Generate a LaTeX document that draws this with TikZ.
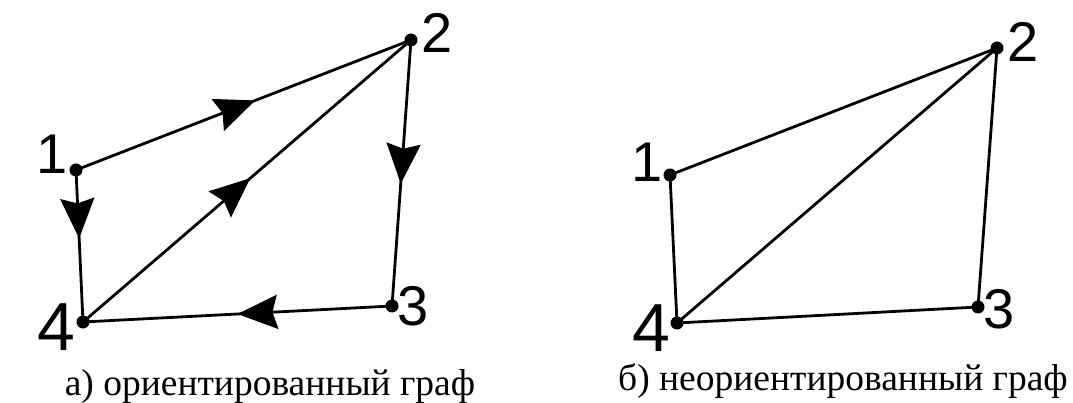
\documentclass[tikz,border=0pt]{standalone}
\usepackage{fontspec}
\setmainfont{Liberation Serif}
\newfontfamily\digitfont{Liberation Sans}
\usetikzlibrary{arrows.meta,decorations.markings}
\tikzset{
  vertex/.style={circle,fill=black,inner sep=0pt,minimum size=13pt},
  num/.style={inner sep=0pt,font=\digitfont\fontsize{56}{56}\selectfont},
  bignum/.style={inner sep=0pt,font=\digitfont\fontsize{68}{68}\selectfont},
  edge/.style={line width=2.8pt},
  arrowat/.style={postaction={decorate},decoration={markings,
    mark=at position #1 with {\arrow{Stealth[length=40pt,width=34pt,inset=5pt]}}}},
  caption/.style={inner sep=0pt,anchor=base,font=\fontsize{37.5}{37.5}\selectfont}
}
\begin{document}
\begin{tikzpicture}[x=1pt,y=-1pt]
\useasboundingbox (0,0) rectangle (1073,403);
% left: directed graph
\node[vertex] (a1) at (76,170) {};
\node[vertex] (a2) at (411,40) {};
\node[vertex] (a3) at (392,306) {};
\node[vertex] (a4) at (83,322) {};
\node[num] (la1) at (52,154) {1};
\node[num] (la2) at (437,33) {2};
\node[num] (la3) at (413,306) {3};
\node[bignum] (la4) at (56,327) {4};
\draw[edge,arrowat=0.535] (a1.center) -- (a2.center);
\draw[edge,arrowat=0.45] (a1.center) -- (a4.center);
\draw[edge,arrowat=0.51] (a4.center) -- (a2.center);
\draw[edge,arrowat=0.54] (a2.center) -- (a3.center);
\draw[edge,arrowat=0.5] (a3.center) -- (a4.center);
\node[caption] (ca) at (270,395) {а) ориентированный граф};
% right: undirected graph
\node[vertex] (b1) at (670,175) {};
\node[vertex] (b2) at (997,48) {};
\node[vertex] (b3) at (978,307) {};
\node[vertex] (b4) at (677,323) {};
\node[num] (lb1) at (647,162) {1};
\node[num] (lb2) at (1023,42) {2};
\node[num] (lb3) at (999,309) {3};
\node[bignum] (lb4) at (651,328) {4};
\draw[edge] (b1.center) -- (b2.center);
\draw[edge] (b1.center) -- (b4.center);
\draw[edge] (b4.center) -- (b2.center);
\draw[edge] (b2.center) -- (b3.center);
\draw[edge] (b3.center) -- (b4.center);
\node[caption] (cb) at (843,390) {б) неориентированный граф};
\end{tikzpicture}
\end{document}
